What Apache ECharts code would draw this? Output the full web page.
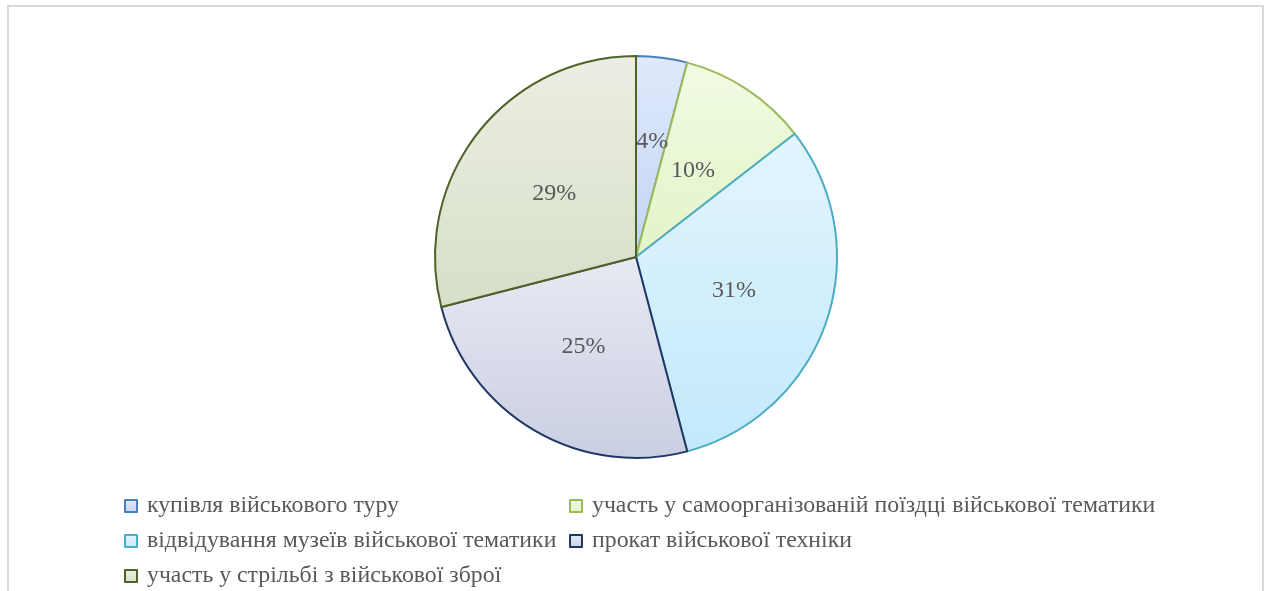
<!DOCTYPE html>
<html>
<head>
<meta charset="utf-8">
<script src="https://cdn.jsdelivr.net/npm/echarts@6/dist/echarts.min.js"></script>
<style>
  html, body { margin: 0; padding: 0; background: #ffffff; }
  #frame { position: absolute; left: 7px; top: 5px; width: 1257px; height: 620px; border: 2px solid #d9d9d9; box-sizing: border-box; }
  #chart { position: absolute; left: 0; top: 0; width: 1269px; height: 591px; }
</style>
</head>
<body>
<div id="frame"></div>
<div id="chart"></div>
<script>
// Види військового туризму: частки відповідей
const categories = [
  'купівля військового туру',
  'участь у самоорганізованій поїздці військової тематики',
  'відвідування музеїв військової тематики',
  'прокат військової техніки',
  'участь у стрільбі з військової зброї'
];
const shares = [4.1, 10.4, 31.4, 25.1, 29.0];

// Заливка секторів (верх → низ) та колір контуру
const fillTop = ['#dfe9fb', '#f1fbe2', '#e3f5fe', '#e8eaf2', '#eceee3'];
const fillBottom = ['#c3d5f4', '#e2f4c8', '#c2e9fb', '#c9cee2', '#d6dfc8'];
const edgeColors = ['#4a7ebb', '#9bbb59', '#4bacc6', '#1f3864', '#4f6228'];

const leftColumn = [categories[0], categories[2], categories[4]];
const rightColumn = [categories[1], categories[3]];

const pieData = categories.map((name, i) => ({
  name: name,
  value: shares[i],
  itemStyle: {
    color: new echarts.graphic.LinearGradient(0, 0, 0, 1, [
      { offset: 0, color: fillTop[i] },
      { offset: 1, color: fillBottom[i] }
    ]),
    borderColor: edgeColors[i],
    borderWidth: 2
  },
  label: i === 0 ? { offset: [3, -13] } : undefined
}));

const fontFamily = '"Liberation Serif", "Times New Roman", serif';

const legendBase = {
  orient: 'vertical',
  top: 494,
  height: 110,
  padding: 0,
  itemWidth: 12,
  itemHeight: 12,
  itemGap: 11,
  icon: 'rect',
  selectedMode: false,
  textStyle: {
    fontFamily: fontFamily,
    fontSize: 23.8,
    color: '#595959',
    padding: [0, 0, 0, 5]
  }
};

const chart = echarts.init(document.getElementById('chart'), null, { renderer: 'canvas' });
chart.setOption({
  animation: false,
  legend: [
    Object.assign({ left: 124, data: leftColumn }, legendBase),
    Object.assign({ left: 569, data: rightColumn }, legendBase)
  ],
  series: [{
    type: 'pie',
    center: [636, 257],
    radius: 201,
    startAngle: 90,
    clockwise: true,
    avoidLabelOverlap: false,
    label: {
      show: true,
      position: 'inside',
      formatter: p => Math.round(p.percent) + '%',
      fontFamily: fontFamily,
      fontSize: 24,
      color: '#595959'
    },
    labelLine: { show: false },
    emphasis: { disabled: true },
    data: pieData
  }]
});
</script>
</body>
</html>
